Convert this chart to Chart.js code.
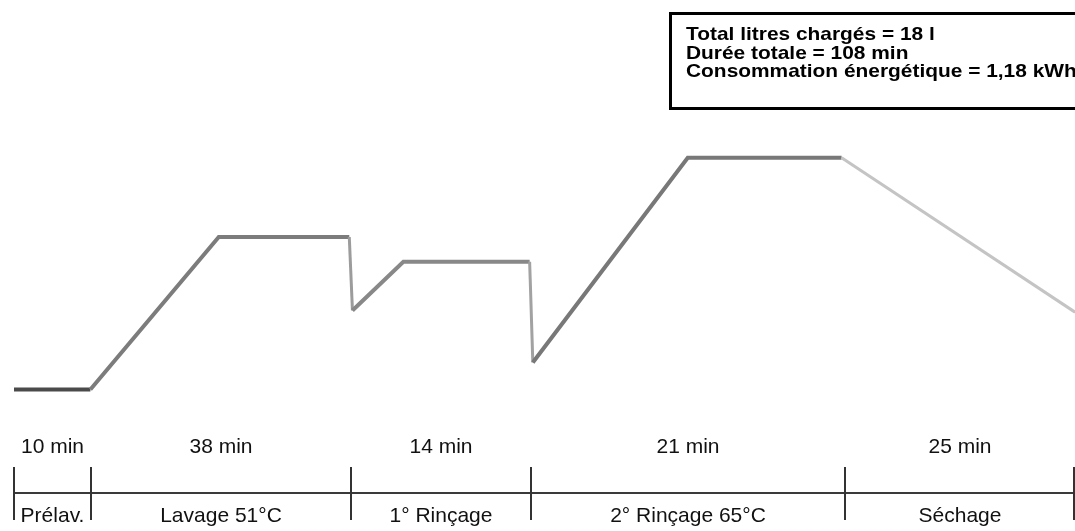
<!DOCTYPE html>
<html>
<head>
<meta charset="utf-8">
<script src="https://cdn.jsdelivr.net/npm/chart.js@4.4.0/dist/chart.umd.min.js"></script>
<style>
html, body { margin: 0; padding: 0; background: #fff; }
#wrap { width: 1075px; height: 531px; position: relative; }
</style>
</head>
<body>
<div id="wrap"><canvas id="cycleChart" width="1075" height="531"></canvas></div>
<script>
// position along the cycle (schematic, % of the time axis) and temperature (°C)
var profileX = [0, 7.2, 19.3, 31.6, 31.9, 36.7, 48.6, 48.9, 63.5, 78.0, 100];
var profileTemp = [24, 24, 51, 51, 38, 46.6, 46.6, 28.8, 65, 65, 37.7];

// phase boundaries on the same schematic axis
var phaseEdges = [0, 7.26, 31.76, 48.73, 78.32, 100];
var phaseDurations = ['10 min', '38 min', '14 min', '21 min', '25 min'];
var phaseNames = ['Prélav.', 'Lavage 51°C', '1° Rinçage', '2° Rinçage 65°C', 'Séchage'];

var summaryLines = [
    'Total litres chargés = 18 l',
    'Durée totale = 108 min',
    'Consommation énergétique = 1,18 kWh'
];

// look of each line segment (prewash darker, drying lighter)
var segColors = ['#4a4a4a', '#7c7c7c', '#7c7c7c', '#9c9c9c', '#888888', '#888888', '#a2a2a2', '#787878', '#787878', '#c4c4c4'];
var segWidths = [4, 4, 4, 3, 4, 4, 3, 4, 4, 3];

var points = profileX.map(function(x, i) {
    return { x: x, y: profileTemp[i] };
});

// time axis + phase labels, placed from the x scale
var timeAxisPlugin = {
    id: 'timeAxis',
    afterDraw: function(chart) {
        var ctx = chart.ctx;
        var xs = chart.scales.x;
        var axisY = chart.chartArea.bottom - 4;
        ctx.save();

        ctx.strokeStyle = '#3a3a3a';
        ctx.lineWidth = 2;
        ctx.beginPath();
        ctx.moveTo(xs.getPixelForValue(0), axisY);
        ctx.lineTo(chart.width, axisY);
        ctx.stroke();

        ctx.strokeStyle = '#333';
        phaseEdges.forEach(function(edge) {
            var px = Math.min(Math.round(xs.getPixelForValue(edge)), chart.width - 1);
            ctx.beginPath();
            ctx.moveTo(px, axisY - 26);
            ctx.lineTo(px, axisY + 27);
            ctx.stroke();
        });

        ctx.fillStyle = '#111';
        ctx.textAlign = 'center';
        ctx.textBaseline = 'alphabetic';
        ctx.font = '21px "Liberation Sans", Arial, sans-serif';
        for (var i = 0; i < phaseNames.length; i++) {
            var mid = xs.getPixelForValue((phaseEdges[i] + phaseEdges[i + 1]) / 2);
            ctx.fillText(phaseDurations[i], mid, axisY - 40);
            ctx.fillText(phaseNames[i], mid, axisY + 29);
        }

        // summary box, cut by the right edge
        ctx.strokeStyle = '#000';
        ctx.lineWidth = 3;
        ctx.strokeRect(670.5, 13.5, 420, 95);
        ctx.fillStyle = '#000';
        ctx.textAlign = 'left';
        ctx.font = 'bold 19px "Liberation Sans", Arial, sans-serif';
        summaryLines.forEach(function(line, k) {
            ctx.save();
            ctx.translate(686, 40 + k * 18.5);
            ctx.scale(1.1, 1);
            ctx.fillText(line, 0, 0);
            ctx.restore();
        });
        ctx.restore();
    }
};

new Chart(document.getElementById('cycleChart'), {
    type: 'line',
    data: {
        datasets: [{
            data: points,
            borderColor: '#808080',
            borderWidth: 4,
            pointRadius: 0,
            fill: false,
            tension: 0,
            segment: {
                borderColor: function(c) { return segColors[c.p0DataIndex]; },
                borderWidth: function(c) { return segWidths[c.p0DataIndex]; }
            }
        }]
    },
    options: {
        responsive: false,
        animation: false,
        layout: { padding: { left: 14, right: 0, top: 73, bottom: 34 } },
        plugins: {
            legend: { display: false },
            tooltip: { enabled: false }
        },
        scales: {
            x: { type: 'linear', min: 0, max: 100, display: false },
            y: { min: 5, max: 80, display: false }
        }
    },
    plugins: [timeAxisPlugin]
});
</script>
</body>
</html>
